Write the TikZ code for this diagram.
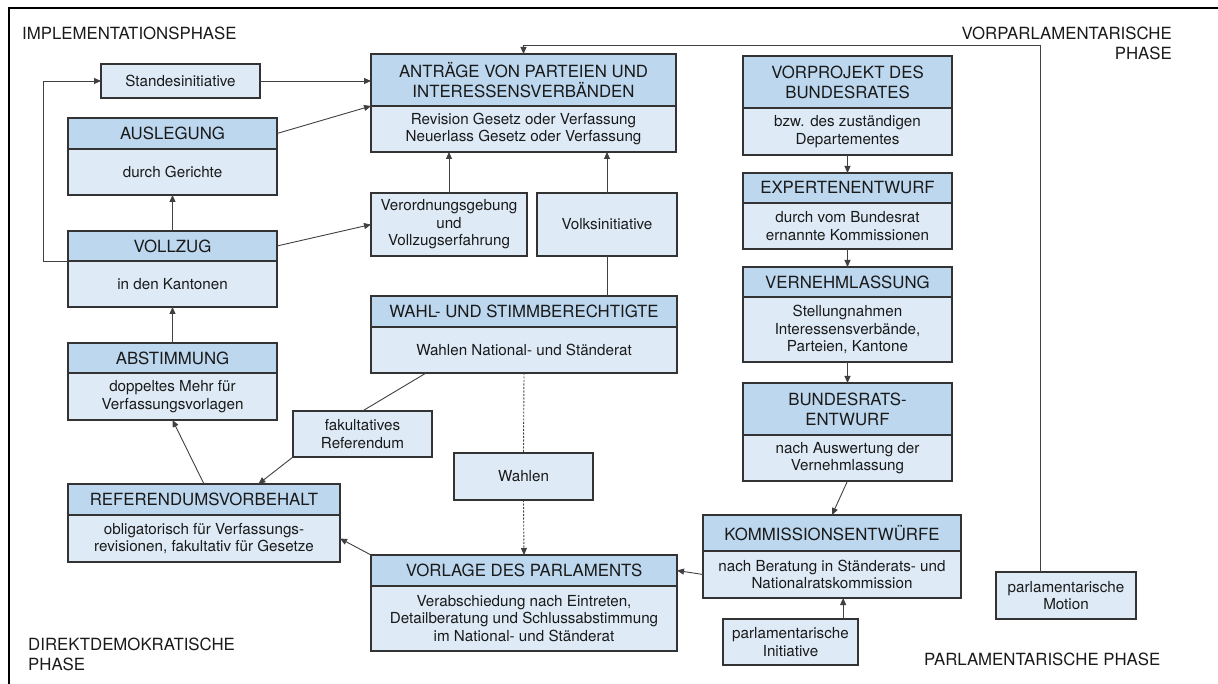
\documentclass[tikz,border=0pt]{standalone}
\usepackage{fontspec}
\setmainfont{TeX Gyre Heros}
\usetikzlibrary{positioning, arrows.meta, calc}
\definecolor{kopfblau}{HTML}{BDD7EE}
\definecolor{feldblau}{HTML}{DEEBF7}
\definecolor{randgrau}{HTML}{333333}
\definecolor{liniengrau}{HTML}{404040}
\definecolor{schrift}{HTML}{1A1A1A}
\newcommand{\kopffont}{\fontsize{16.8}{20}\selectfont}
\newcommand{\feldfont}{\fontsize{15.2}{17.5}\selectfont}

\begin{document}
\begin{tikzpicture}[x=1pt, y=-1pt,
    kopf/.style={draw=randgrau, line width=1.2pt, fill=kopfblau, text=schrift,
      font=\kopffont, align=center, inner sep=0pt, outer sep=0pt},
    feld/.style={draw=randgrau, line width=1.2pt, fill=feldblau, text=schrift,
      font=\feldfont, align=center, inner sep=0pt, outer sep=0pt},
    pfeil/.style={liniengrau, line width=0.9pt, -{Triangle[length=7pt, width=6pt]}},
    linie/.style={liniengrau, line width=0.9pt},
    punkte/.style={liniengrau, line width=0.9pt, dash pattern=on 2pt off 1.5pt},
    phase/.style={text=schrift, font=\kopffont, inner sep=0pt}]
    \useasboundingbox (0,0) rectangle (1218,684);
    \draw[line width=1.5pt] (9,684) -- (9,8) -- (1218,8);

    \node[phase, anchor=west] (impl) at (22,33) {IMPLEMENTATIONSPHASE};
    \node[phase, anchor=east, align=right] (vorparl) at (1172,43.5) {VORPARLAMENTARISCHE\\PHASE};
    \node[phase, anchor=west, align=left] (direkt) at (28,654) {DIREKTDEMOKRATISCHE\\PHASE};
    \node[phase, anchor=west] (parl) at (924,659) {PARLAMENTARISCHE PHASE};

    \node[kopf, minimum width=209pt, minimum height=31pt, anchor=north west] (ausl-h) at (68,118) {AUSLEGUNG};
    \node[feld, minimum width=209pt, minimum height=46pt, below=0pt of ausl-h] (ausl-b) {durch Gerichte};
    \node[kopf, minimum width=209pt, minimum height=30pt, anchor=north west] (vollz-h) at (68,231) {VOLLZUG};
    \node[feld, minimum width=209pt, minimum height=46pt, below=0pt of vollz-h] (vollz-b) {in den Kantonen};
    \node[kopf, minimum width=209pt, minimum height=30pt, anchor=north west] (abst-h) at (68,343) {ABSTIMMUNG};
    \node[feld, minimum width=209pt, minimum height=47pt, below=0pt of abst-h] (abst-b) {doppeltes Mehr für\\Verfassungsvorlagen};
    \node[kopf, minimum width=272pt, minimum height=31pt, anchor=north west] (refv-h) at (68,484) {REFERENDUMSVORBEHALT};
    \node[feld, minimum width=272pt, minimum height=47pt, below=0pt of refv-h] (refv-b) {obligatorisch für Verfassungs-\\revisionen, fakultativ für Gesetze};

    \node[kopf, minimum width=305pt, minimum height=52pt, anchor=north west] (antr-h) at (371,54) {ANTRÄGE VON PARTEIEN UND\\INTERESSENSVERBÄNDEN};
    \node[feld, minimum width=305pt, minimum height=46pt, below=0pt of antr-h] (antr-b) {Revision Gesetz oder Verfassung\\Neuerlass Gesetz oder Verfassung};
    \node[kopf, minimum width=306pt, minimum height=31pt, anchor=north west] (wahl-h) at (371,296) {WAHL- UND STIMMBERECHTIGTE};
    \node[feld, minimum width=306pt, minimum height=46pt, below=0pt of wahl-h] (wahl-b) {Wahlen National- und Ständerat};
    \node[kopf, minimum width=306pt, minimum height=31pt, anchor=north west] (vorl-h) at (371,555) {VORLAGE DES PARLAMENTS};
    \node[feld, minimum width=306pt, minimum height=65pt, below=0pt of vorl-h] (vorl-b) {Verabschiedung nach Eintreten,\\Detailberatung und Schlussabstimmung\\im National- und Ständerat};

    \node[kopf, minimum width=209pt, minimum height=52pt, anchor=north west] (vorp-h) at (743,56) {VORPROJEKT DES\\BUNDESRATES};
    \node[feld, minimum width=209pt, minimum height=47pt, below=0pt of vorp-h] (vorp-b) {bzw. des zuständigen\\Departementes};
    \node[kopf, minimum width=209pt, minimum height=30pt, anchor=north west] (expe-h) at (743,173) {EXPERTENENTWURF};
    \node[feld, minimum width=209pt, minimum height=46pt, below=0pt of expe-h] (expe-b) {durch vom Bundesrat\\ernannte Kommissionen};
    \node[kopf, minimum width=209pt, minimum height=30pt, anchor=north west] (vern-h) at (743,267) {VERNEHMLASSUNG};
    \node[feld, minimum width=209pt, minimum height=65pt, below=0pt of vern-h] (vern-b) {Stellungnahmen\\Interessensverbände,\\Parteien, Kantone};
    \node[kopf, minimum width=209pt, minimum height=52pt, anchor=north west] (bund-h) at (743,383) {BUNDESRATS-\\ENTWURF};
    \node[feld, minimum width=209pt, minimum height=46pt, below=0pt of bund-h] (bund-b) {nach Auswertung der\\Vernehmlassung};
    \node[kopf, minimum width=258pt, minimum height=36pt, anchor=north west] (komm-h) at (703,515) {KOMMISSIONSENTWÜRFE};
    \node[feld, minimum width=258pt, minimum height=47pt, below=0pt of komm-h] (komm-b) {nach Beratung in Ständerats- und\\Nationalratskommission};

    \node[feld, minimum width=159pt, minimum height=34pt] (stin) at (180.5,81) {Standesinitiative};
    \node[feld, minimum width=156pt, minimum height=63pt] (vero) at (449,224.5) {Verordnungsgebung\\und\\Vollzugserfahrung};
    \node[feld, minimum width=140pt, minimum height=63pt] (volk) at (607,224.5) {Volksinitiative};
    \node[feld, minimum width=139pt, minimum height=46pt] (faku) at (362.5,434) {fakultatives\\Referendum};
    \node[feld, minimum width=139pt, minimum height=47pt] (wahn) at (523.5,476.5) {Wahlen};
    \node[feld, minimum width=135pt, minimum height=46pt] (pini) at (790.5,642) {parlamentarische\\Initiative};
    \node[feld, minimum width=140pt, minimum height=47pt] (pmot) at (1066,595.5) {parlamentarische\\Motion};

    \coordinate (wahl-fk) at ($(wahl-b.south west)!0.18!(wahl-b.south east)$);
    \coordinate (refv-fk) at ($(refv-h.north west)!0.7!(refv-h.north east)$);
    \coordinate (pini-ok) at ($(pini.north west)!0.89!(pini.north east)$);
    \coordinate (pmot-ok) at ($(pmot.north west)!0.314!(pmot.north east)$);

    \draw[pfeil] (stin) -- (stin -| antr-h.west);
    \draw[pfeil] (ausl-h.east) -- (antr-h.south west);
    \draw[pfeil] (vollz-h.east) -- (vero.west);
    \draw[pfeil] (vollz-h.north) -- (ausl-b.south);
    \draw[pfeil] (abst-h.north) -- (vollz-b.south);
    \draw[pfeil] (vollz-h.south west) -- ++(-25,0) |- (stin.west);
    \draw[pfeil] (vero.north) -- (vero.north |- antr-b.south);
    \draw[pfeil] (volk.north) -- (volk.north |- antr-b.south);
    \draw[linie] (wahl-h.north -| volk.south) -- (volk.south);
    \draw[linie] (wahl-fk) -- (faku.north);
    \draw[pfeil] (faku.south west) -- (refv-fk);
    \draw[pfeil] (refv-h.north) -- (abst-b.south);
    \draw[pfeil] (vorl-h.north west) -- (refv-b.east);
    \draw[punkte] (wahl-b.south) -- (wahn.north);
    \draw[punkte, -{Triangle[length=7pt, width=6pt]}] (wahn.south) -- (vorl-h.north);
    \draw[pfeil] (komm-b.west) -- (vorl-h.east);
    \draw[pfeil] (pini-ok) -- (pini-ok |- komm-b.south);
    \draw[pfeil] (bund-b.south) -- (komm-h.north);
    \draw[pfeil] (vorp-b.south) -- (expe-h.north);
    \draw[pfeil] (expe-b.south) -- (vern-h.north);
    \draw[pfeil] (vern-b.south) -- (bund-h.north);
    \draw[pfeil] (pmot-ok) |- ([yshift=9pt]antr-h.north) -- (antr-h.north);
\end{tikzpicture}
\end{document}
